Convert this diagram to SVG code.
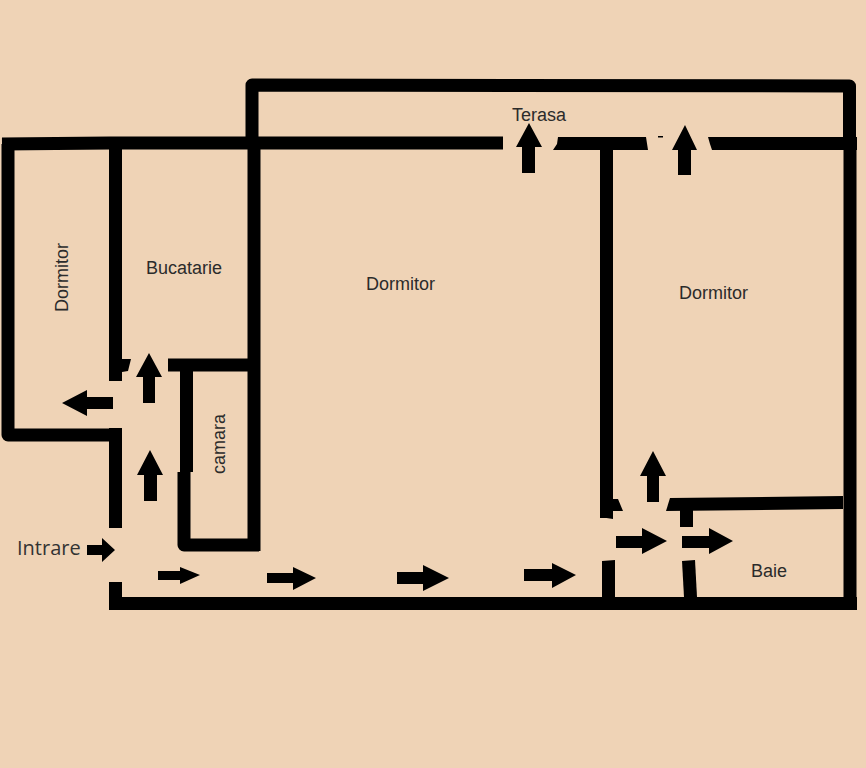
<svg xmlns="http://www.w3.org/2000/svg" width="866" height="768" viewBox="0 0 866 768">
<defs><style>
.w{fill:none;stroke:#000;stroke-width:13;stroke-linejoin:round;stroke-linecap:butt}
.f{fill:#000}
.a{fill:#000}
.t{font-family:"Liberation Sans",Arial,sans-serif;font-size:18px;fill:#2b2b2b}
</style></defs>
<rect width="866" height="768" fill="#efd3b6"/>
<g id="walls">
<path class="w" d="M252 143V85L849.500 86V143"/>
<path class="w" d="M2 144L110 143H503"/>
<polygon class="f" points="558,137 646,137 648,150 553,150 557,144"/>
<polygon class="f" points="708,137 857,137 857,150 712,150 710,144"/>
<rect class="f" x="658" y="136" width="5" height="1.500"/>
<path class="w" d="M8 144V435L115 435"/>
<path class="w" d="M115.500 143V381M115.500 428V528"/>
<polygon class="f" points="109,582 122,582 122,597 857,597 857,610 109,610"/>
<polygon class="f" points="122,359 131,359 128,371 122,372"/>
<path class="w" d="M850 143V603"/>
<path class="w" d="M254 143V551"/>
<path class="w" d="M168 365H248"/>
<path class="w" d="M186.500 365V472M184 472V545H259"/>
<path class="w" d="M606.500 143V518"/>
<polygon class="f" points="600,499 618,499 623,511 613,511 613,519 600,517"/>
<polygon class="f" points="602,561 615,560 615,597 602,597"/>
<polygon class="f" points="670,498 843,496 843,509 666,511"/>
<rect class="f" x="680" y="505" width="13" height="22"/>
<polygon class="f" points="682,561 695,560 697,597 684,597"/>
</g>
<g id="arrows">
<polygon class="a" points="522,173 535,173 535,147 542,147 529,123 516,147 522,147"/>
<polygon class="a" points="678,175 691,175 691,150 697,150 685,125 672,150 678,150"/>
<polygon class="a" points="143,403 155,403 155,377 162,377 149,353 136,377 143,377"/>
<polygon class="a" points="113,397 87,397 87,390 62,403 87,416 87,409 113,409"/>
<polygon class="a" points="144,501 157,501 157,475 163,475 150,450 137,475 144,475"/>
<polygon class="a" points="647,502 659,502 659,476 666,476 653,451 640,476 647,476"/>
<polygon class="a" points="87,545 102,545 102,538 115,550 102,562 102,555 87,555"/>
<polygon class="a" points="158,571 180,571 180,567 200,575 180,584 180,580 158,580"/>
<polygon class="a" points="267,573 293,573 293,567 316,578 293,590 293,583 267,583"/>
<polygon class="a" points="397,572 423,572 423,565 449,578 423,591 423,584 397,584"/>
<polygon class="a" points="524,569 552,569 552,563 576,575 552,588 552,581 524,581"/>
<polygon class="a" points="616,536 642,536 642,528 667,541 642,554 642,548 616,548"/>
<polygon class="a" points="682,536 709,536 709,528 733,541 709,554 709,548 682,548"/>
</g>
<g id="labels">
<text class="t" x="512" y="121">Terasa</text>
<text class="t" x="146" y="274">Bucatarie</text>
<text class="t" x="366" y="290">Dormitor</text>
<text class="t" x="679" y="299">Dormitor</text>
<text class="t" x="751" y="577">Baie</text>
<text class="t" transform="translate(68 312) rotate(-90)">Dormitor</text>
<text class="t" transform="translate(225 474) rotate(-90)">camara</text>
<text x="17" y="555" style="font-family:'Open Sans',sans-serif;font-size:20px;fill:#333">Intrare</text>
</g>
</svg>
